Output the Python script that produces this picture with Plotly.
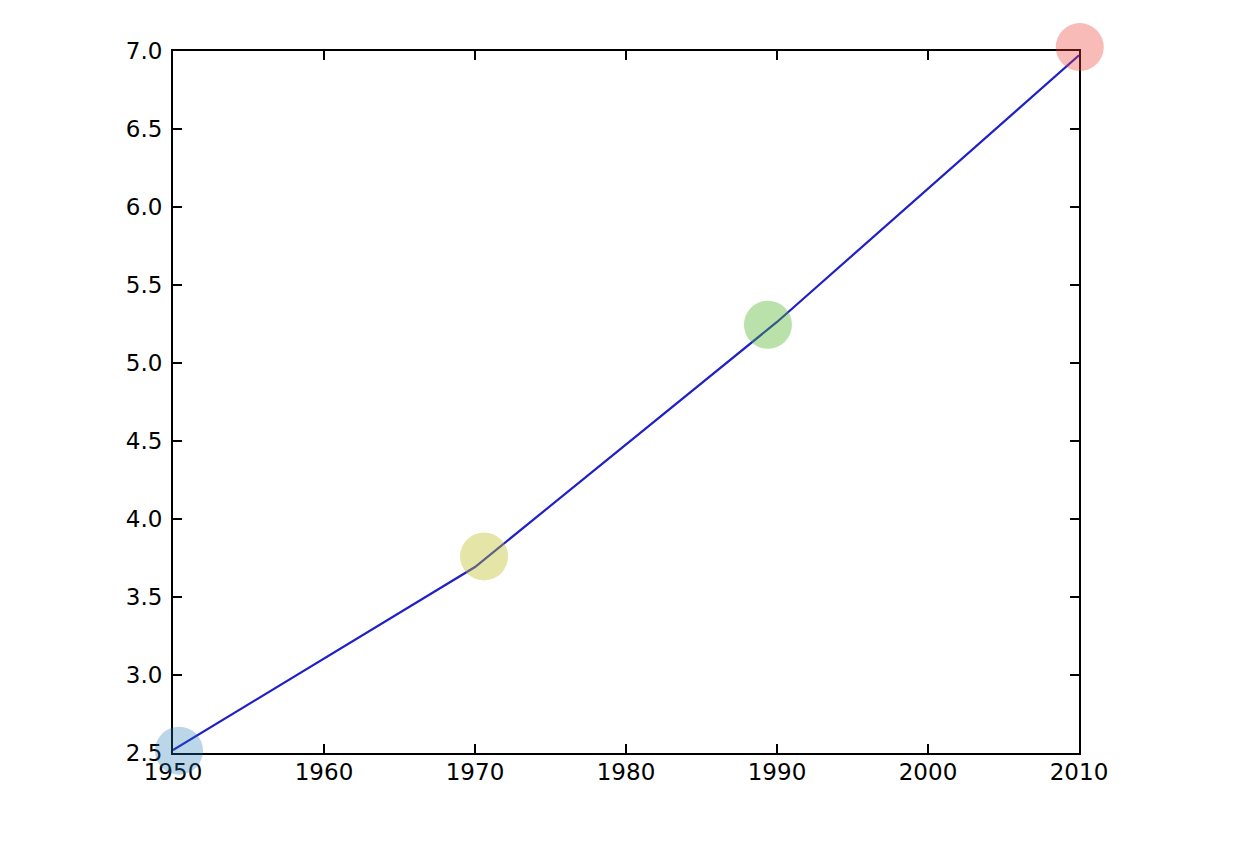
import plotly.graph_objects as go

years = [1950, 1970, 1990, 2010]
population = [2.519, 3.692, 5.263, 6.972]

point_x = [1950.4, 1970.6, 1989.4, 2010.05]
point_y = [2.515, 3.76, 5.245, 7.025]
point_colors = ["rgba(31,119,180,0.3)", "rgba(188,189,34,0.4)",
                "rgba(80,180,40,0.4)", "rgba(235,60,50,0.35)"]

x_ticks = [1950, 1960, 1970, 1980, 1990, 2000, 2010]
y_ticks = [2.5, 3.0, 3.5, 4.0, 4.5, 5.0, 5.5, 6.0, 6.5, 7.0]
x_range = [1950, 2010]
y_range = [2.5, 7.0]

# plot-area geometry in px (page has an 8px body offset)
plot_w, plot_h = 906, 702
pad = 30
inner_w, inner_h = plot_w + 2 * pad, plot_h + 2 * pad
dx = pad * (x_range[1] - x_range[0]) / plot_w
dy = pad * (y_range[1] - y_range[0]) / plot_h

fig = go.Figure()
fig.add_trace(go.Scatter(x=years, y=population, mode="lines",
                         line=dict(color="#2020c8", width=2.2), showlegend=False))
fig.add_trace(go.Scatter(x=point_x, y=point_y, mode="markers", xaxis="x2", yaxis="y2",
                         marker=dict(size=48, color=point_colors, line=dict(width=0)),
                         cliponaxis=False, showlegend=False))

axis_common = dict(showgrid=False, zeroline=False, showline=True, linecolor="black",
                   linewidth=2, mirror="ticks", ticks="inside", ticklen=9,
                   tickwidth=1.5, tickcolor="black", automargin=False,
                   tickfont=dict(family="DejaVu Sans", size=23, color="black"))

fig.update_layout(
    xaxis=dict(range=x_range, tickvals=x_ticks, ticktext=[str(v) for v in x_ticks],
               domain=[pad / inner_w, 1 - pad / inner_w], anchor="y",
               ticklabelstandoff=-3, **axis_common),
    yaxis=dict(range=y_range, tickvals=y_ticks, ticktext=[f"{v:.1f}" for v in y_ticks],
               domain=[pad / inner_h, 1 - pad / inner_h], anchor="x",
               ticklabelstandoff=4, **axis_common),
    xaxis2=dict(range=[x_range[0] - dx, x_range[1] + dx], domain=[0, 1], anchor="y2",
                visible=False, fixedrange=True, automargin=False),
    yaxis2=dict(range=[y_range[0] - dy, y_range[1] + dy], domain=[0, 1], anchor="x2",
                visible=False, fixedrange=True, automargin=False),
    width=1248, height=848, plot_bgcolor="rgba(0,0,0,0)", paper_bgcolor="white",
    margin=dict(l=165 - pad, r=177 - pad, t=43 - pad, b=103 - pad, autoexpand=False),
)

fig.write_html("out.html")
